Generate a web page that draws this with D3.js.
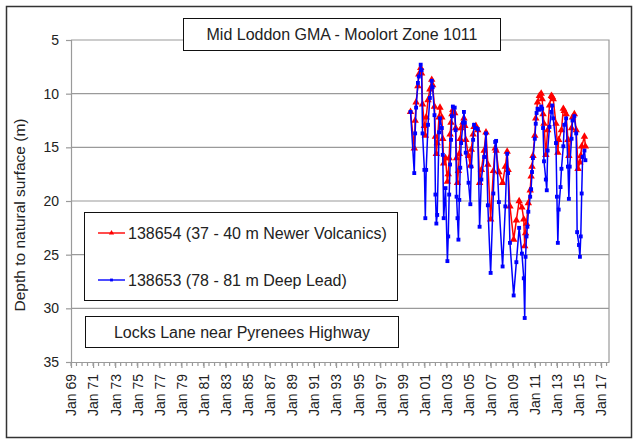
<!DOCTYPE html>
<html>
<head>
<meta charset="utf-8">
<script src="https://cdn.jsdelivr.net/npm/d3@7"></script>
<style>
  body { margin: 0; background: #fff; }
  svg { display: block; font-family: "Liberation Sans", Arial, sans-serif; }
</style>
</head>
<body>
<div id="chart"></div>
<script>
// bore 138654 (shallow, red) and 138653 (deep, blue) - month, depth (m)
const redMonths = ["1999-10","2000-02","2000-03","2000-04","2000-06","2000-07","2000-09","2000-10","2000-11",
  "2001-01","2001-02","2001-03","2001-05","2001-07","2001-09","2001-10","2001-12",
  "2002-01","2002-02","2002-03","2002-05","2002-06","2002-08","2002-09","2002-10","2002-12",
  "2003-02","2003-03","2003-04","2003-05","2003-06","2003-07","2003-08","2003-10","2003-11","2003-12",
  "2004-01","2004-02","2004-03","2004-04","2004-05","2004-07","2004-08","2004-09","2004-10",
  "2005-01","2005-03","2005-04","2005-06","2005-07","2005-09","2005-11",
  "2006-01","2006-03","2006-06","2006-08","2006-10",
  "2007-01","2007-04","2007-06","2007-07","2007-10",
  "2008-02","2008-05","2008-07","2008-08","2008-10",
  "2009-02","2009-05","2009-08","2009-11",
  "2010-01","2010-02","2010-03","2010-04","2010-06","2010-08","2010-09","2010-10","2010-11",
  "2011-01","2011-02","2011-04","2011-06","2011-08","2011-09","2011-10","2011-11",
  "2012-01","2012-03","2012-05","2012-07","2012-08","2012-09","2012-12",
  "2013-02","2013-03","2013-06","2013-08","2013-09","2013-11",
  "2014-01","2014-02","2014-05","2014-06","2014-08","2014-10","2014-12",
  "2015-02","2015-03","2015-04","2015-07","2015-08"];
const redDepth = [11.7,15.1,12.5,10.8,9.3,8.2,7.6,8.1,11.0,
  13.0,13.9,12.2,10.6,9.6,8.7,9.2,11.2,
  14.0,15.6,14.6,12.2,11.3,12.2,14.2,16.5,16.0,
  18.2,17.5,16.0,13.8,12.7,11.9,11.5,11.8,13.2,16.0,
  18.3,17.2,15.6,14.2,13.2,12.7,12.3,13.0,14.3,
  15.8,16.7,15.2,13.8,13.1,13.0,13.4,
  18.3,17.1,15.3,13.6,16.6,
  21.7,17.2,15.1,15.3,17.3,
  18.3,16.8,15.4,17.1,20.5,
  23.6,21.8,20.0,20.6,
  21.7,24.2,23.0,22.1,20.2,19.0,17.7,16.8,15.8,
  13.9,12.3,10.8,10.2,10.0,10.5,11.9,12.8,
  15.7,13.4,11.1,10.2,10.3,10.5,12.8,
  15.5,14.3,13.4,11.4,11.6,11.9,
  14.3,15.8,13.2,12.2,11.9,13.4,17.0,
  16.4,15.8,14.9,14.0,14.9];

const blueMonths = ["1999-10","2000-02","2000-03","2000-04","2000-06","2000-07","2000-09","2000-10","2000-11",
  "2001-01","2001-02","2001-03","2001-05","2001-07","2001-09","2001-10","2001-12",
  "2002-01","2002-02","2002-03","2002-05","2002-06","2002-08","2002-09","2002-10","2002-12",
  "2003-02","2003-03","2003-04","2003-05","2003-06","2003-07","2003-08","2003-10","2003-11","2003-12",
  "2004-01","2004-02","2004-03","2004-04","2004-05","2004-07","2004-08","2004-09","2004-10",
  "2005-01","2005-03","2005-04","2005-06","2005-07","2005-09","2005-11",
  "2006-01","2006-03","2006-06","2006-08","2006-10",
  "2007-01","2007-04","2007-06","2007-07","2007-10",
  "2008-02","2008-05","2008-07","2008-08","2008-10",
  "2009-02","2009-05","2009-08","2009-11",
  "2010-01","2010-02","2010-03","2010-04","2010-05","2010-06","2010-08","2010-09","2010-10","2010-11",
  "2011-01","2011-02","2011-03","2011-04","2011-06","2011-08","2011-09","2011-10","2011-11",
  "2012-01","2012-02","2012-03","2012-05","2012-07","2012-08","2012-09","2012-12",
  "2013-01","2013-02","2013-03","2013-05","2013-06","2013-08","2013-09","2013-11",
  "2014-01","2014-02","2014-03","2014-05","2014-06","2014-08","2014-10","2014-11",
  "2015-01","2015-02","2015-03","2015-04","2015-05","2015-07","2015-08"];
const blueDepth = [11.7,17.4,13.7,11.3,9.0,8.4,7.3,7.8,13.7,
  17.1,21.6,17.1,12.9,10.4,8.8,9.4,12.0,
  19.4,22.1,21.3,13.6,12.3,13.2,15.7,21.6,18.8,
  25.6,23.3,19.4,16.6,14.3,12.1,11.2,11.3,13.4,19.6,
  21.6,23.6,19.9,16.9,14.6,12.7,11.7,12.7,15.5,
  18.3,20.3,16.8,14.3,12.9,13.2,13.3,
  22.4,18.0,15.9,13.7,20.4,
  26.7,19.3,14.5,14.4,20.1,
  26.1,20.5,15.6,17.4,23.9,
  28.8,25.7,22.5,24.9,
  27.2,30.9,25.2,23.3,22.4,21.0,19.6,18.9,17.3,16.0,
  14.2,12.8,11.8,11.4,11.5,11.2,11.4,13.2,16.3,
  18.0,19.0,15.3,13.1,11.7,11.1,12.3,14.6,
  19.6,23.9,20.8,18.7,17.0,14.9,12.9,12.3,
  16.8,19.8,16.8,14.2,12.5,12.1,13.7,22.9,
  24.1,25.2,23.3,19.3,15.9,15.3,16.2];

const yTicks = [5, 10, 15, 20, 25, 30, 35];
const tickYears = d3.range(1969, 2018, 2);

const W = 638, H = 443;
const svg = d3.select("#chart").append("svg").attr("width", W).attr("height", H);

// outer frame
svg.append("rect").attr("x", 6.5).attr("y", 6.5).attr("width", 625).attr("height", 431)
  .attr("fill", "#fff").attr("stroke", "#333").attr("stroke-width", 1.5);

const x = d3.scaleTime().domain([new Date(1969, 0, 1), new Date(2017, 8, 20)]).range([71, 609]);
const y = d3.scaleLinear().domain([5, 35]).range([40, 362]);

const gray = "#9a9a9a";

// grid
svg.append("g").selectAll("line").data(yTicks.slice(1, -1)).join("line")
  .attr("x1", 71).attr("x2", 609).attr("y1", d => y(d)).attr("y2", d => y(d))
  .attr("stroke", gray).attr("stroke-width", 1.2);
// plot border top/right
svg.append("path").attr("d", `M71,${y(5)}H609V${y(35)}`).attr("fill", "none")
  .attr("stroke", gray).attr("stroke-width", 1.2);

// y axis
const yAxis = svg.append("g").attr("transform", "translate(71,0)")
  .call(d3.axisLeft(y).tickValues(yTicks).tickSize(5).tickPadding(7));
yAxis.select(".domain").attr("stroke", gray).attr("stroke-width", 1.2);
yAxis.selectAll(".tick line").attr("stroke", gray).attr("stroke-width", 1.2);
yAxis.selectAll("text").attr("font-size", 14).attr("fill", "#222")
  .attr("font-family", "'Liberation Sans', Arial, sans-serif");

// x axis - minor ticks every half year
const minor = d3.range(1969, 2017.6, 0.5).map(v => new Date(Math.floor(v), v % 1 ? 6 : 0, 1));
svg.append("g").selectAll("line").data(minor).join("line")
  .attr("x1", d => x(d)).attr("x2", d => x(d)).attr("y1", y(35)).attr("y2", y(35) + 4)
  .attr("stroke", gray).attr("stroke-width", 1.2);
const xAxis = svg.append("g").attr("transform", `translate(0,${y(35)})`)
  .call(d3.axisBottom(x).tickValues(tickYears.map(v => new Date(v, 0, 1)))
    .tickFormat(d3.timeFormat("Jan %y")).tickSize(6).tickSizeOuter(0));
xAxis.select(".domain").attr("stroke", gray).attr("stroke-width", 1.2);
xAxis.selectAll(".tick line").attr("stroke", gray).attr("stroke-width", 1.2);
xAxis.selectAll("text").attr("font-size", 14).attr("fill", "#222")
  .attr("font-family", "'Liberation Sans', Arial, sans-serif")
  .attr("transform", "rotate(-90)").attr("text-anchor", "end")
  .attr("x", -12).attr("y", 0).attr("dy", "0.35em");

// y title
svg.append("text").attr("transform", "translate(25,215) rotate(-90)")
  .attr("text-anchor", "middle").attr("font-size", 15.5).attr("fill", "#222")
  .text("Depth to natural surface (m)");

// series
const red = redMonths.map((m, i) => ({ date: d3.timeParse("%Y-%m")(m), v: redDepth[i] }));
const blue = blueMonths.map((m, i) => ({ date: d3.timeParse("%Y-%m")(m), v: blueDepth[i] }));
const line = d3.line().x(d => x(d.date)).y(d => y(d.v));
const tri = d3.symbol().type(d3.symbolTriangle).size(24);
const sq = d3.symbol().type(d3.symbolSquare).size(15);

function drawSeries(data, color, sym) {
  const g = svg.append("g");
  g.append("path").datum(data).attr("d", line).attr("fill", "none")
    .attr("stroke", color).attr("stroke-width", 1.5);
  g.selectAll("path.m").data(data).join("path").attr("class", "m")
    .attr("d", sym).attr("fill", color)
    .attr("transform", d => `translate(${x(d.date)},${y(d.v)})`);
}
drawSeries(red, "#ff0000", tri);
drawSeries(blue, "#0000ff", sq);

// title box
svg.append("rect").attr("x", 183.5).attr("y", 18.5).attr("width", 317).attr("height", 32)
  .attr("fill", "#fff").attr("stroke", "#111");
svg.append("text").attr("x", 342).attr("y", 40).attr("text-anchor", "middle")
  .attr("font-size", 16).attr("fill", "#222").text("Mid Loddon GMA - Moolort Zone 1011");

// legend
const legendItems = [
  { label: "138654 (37 - 40 m Newer Volcanics)", color: "#ff0000", sym: d3.symbol().type(d3.symbolTriangle).size(12) },
  { label: "138653 (78 - 81 m Deep Lead)", color: "#0000ff", sym: d3.symbol().type(d3.symbolSquare).size(8) }
];
svg.append("rect").attr("x", 84.5).attr("y", 212.5).attr("width", 313).attr("height", 88)
  .attr("fill", "#fff").attr("stroke", "#111");
const li = svg.append("g").selectAll("g").data(legendItems).join("g")
  .attr("transform", (d, i) => `translate(98,${233 + i * 47})`);
li.append("line").attr("x1", 0).attr("x2", 27).attr("stroke", d => d.color).attr("stroke-width", 1.4);
li.append("path").attr("d", d => d.sym()).attr("fill", d => d.color)
  .attr("transform", "translate(13.5,0)");
li.append("text").attr("x", 30).attr("dy", "0.36em").attr("font-size", 16).attr("fill", "#222")
  .text(d => d.label);

// site box
svg.append("rect").attr("x", 85.5).attr("y", 316.5).attr("width", 313).attr("height", 31)
  .attr("fill", "#fff").attr("stroke", "#111");
svg.append("text").attr("x", 242).attr("y", 337.5).attr("text-anchor", "middle")
  .attr("font-size", 16).attr("fill", "#222").text("Locks Lane near Pyrenees Highway");
</script>
</body>
</html>
